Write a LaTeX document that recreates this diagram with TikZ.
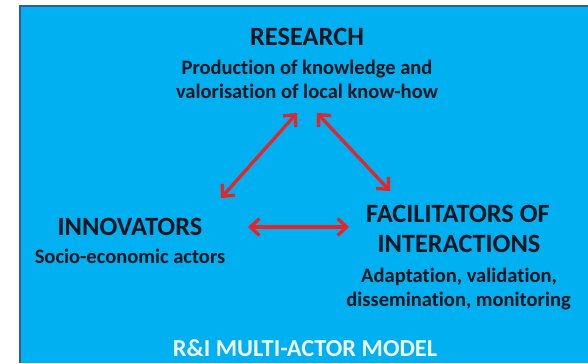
\documentclass[tikz,border=0pt]{standalone}
\usepackage{fontspec}
\setmainfont{Carlito}[Ligatures={NoCommon}]
\usetikzlibrary{arrows.meta}
\definecolor{bgblue}{HTML}{00B0F0}
\definecolor{edgeblue}{HTML}{2F5D9A}
\definecolor{arrowred}{HTML}{E3262B}
\definecolor{txtdark}{HTML}{0B1622}
\definecolor{titlewhite}{HTML}{EEF6FB}
\begin{document}
\begin{tikzpicture}[x=1bp,y=-1bp,
  head/.style={font=\fontsize{26.5}{32}\selectfont\bfseries, text=txtdark, inner sep=0pt, anchor=base},
  sub/.style={font=\fontsize{20.6}{24}\selectfont\bfseries, text=txtdark, inner sep=0pt, anchor=base},
  modeltitle/.style={font=\fontsize{24.5}{28}\selectfont\bfseries, text=titlewhite, inner sep=0pt, anchor=base},
  link/.style={draw=arrowred, line width=3.3bp,
    {Straight Barb[length=9bp,width=17bp]}-{Straight Barb[length=9bp,width=17bp]}}]
\useasboundingbox (0,0) rectangle (588,363);
\fill[bgblue] (20,6) rectangle (588,363);
\draw[edgeblue, line width=1.5bp] (20,363) -- (20,6) -- (588,6);

\node[head] (research) at (307,45) {RESEARCH};
\node[sub] (prod1) at (307,74) {Production of knowledge and};
\node[sub] (prod2) at (307,98) {valorisation of local know-how};

\node[head] (innov) at (130,235) {INNOVATORS};
\node[sub] (socio) at (130,263) {Socio-economic actors};

\node[head] (facil1) at (458,222) {FACILITATORS OF};
\node[head] (facil2) at (459,252) {INTERACTIONS};
\node[sub] (adapt1) at (459,282) {Adaptation, validation,};
\node[sub] (adapt2) at (458.5,306) {dissemination, monitoring};

\node[modeltitle] (model) at (305,356) {R\&I MULTI-ACTOR MODEL};

\coordinate (rL) at (297,113);
\coordinate (iT) at (221,198);
\coordinate (rR) at (317,113);
\coordinate (fT) at (390,191);
\coordinate (iR) at (248,227);
\coordinate (fL) at (349,227);
\draw[link] (rL) -- (iT);
\draw[link] (rR) -- (fT);
\draw[link] (iR) -- (fL);
\end{tikzpicture}
\end{document}
